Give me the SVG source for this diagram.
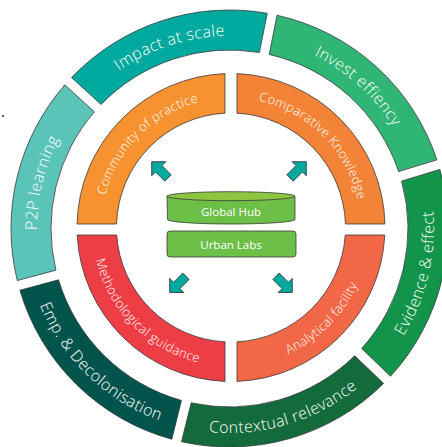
<svg xmlns="http://www.w3.org/2000/svg" width="442" height="447" viewBox="0 0 442 447">
<style>
.seg{stroke:#3a3a3a;stroke-width:0.8}
.lbl{fill:#ffffff;font-family:"Open Sans","Noto Sans","Liberation Sans",sans-serif;font-weight:300;letter-spacing:0.4px}
.out{font-size:16px}
.in{font-size:12.8px}
.ctr{fill:#ffffff;font-family:"Open Sans","Noto Sans","Liberation Sans",sans-serif;font-size:11.5px;text-anchor:middle}
.arr{fill:#00A99D;stroke:#333333;stroke-width:0.8;stroke-linejoin:miter}
</style>
<defs>
<path id="tpImpact" d="M 86.38 99.63 A 192.8 192.8 0 0 1 268.23 39.83"/>
<path id="tpInvest" d="M 269.87 40.18 A 192.8 192.8 0 0 1 412.78 169.29"/>
<path id="tpEvidence" d="M 378.02 368.94 A 204.2 204.2 0 0 0 425.38 170.10"/>
<path id="tpContext" d="M 181.79 427.26 A 204.2 204.2 0 0 0 377.77 369.21"/>
<path id="tpEmp" d="M 33.01 284.83 A 204.2 204.2 0 0 0 180.05 426.83"/>
<path id="tpP2P" d="M 44.68 282.72 A 192.8 192.8 0 0 1 90.13 95.57"/>
<path id="tpCommunity" d="M 101.4 227.5 A 129.6 129.6 0 0 1 231 97.9"/>
<path id="tpComparative" d="M 231 97.9 A 129.6 129.6 0 0 1 360.6 227.5"/>
<path id="tpMethod" d="M 92.1 227.5 A 138.9 138.9 0 0 0 231 366.4"/>
<path id="tpAnalytical" d="M 231 366.4 A 138.9 138.9 0 0 0 369.9 227.5"/>
<path id="arrowShape" d="M 0 0 L 10 10 L 4.5 10 L 4.5 23 L -4.5 23 L -4.5 10 L -10 10 Z"/>
</defs>
<circle cx="3" cy="116" r="1.1" fill="#333333"/>
<g id="impact-at-scale">
<path class="seg" fill="#00A99D" d="M 71.53 77.55 A 218.5 218.5 0 0 1 267.22 13.28 L 259.41 52.52 A 178.5 178.5 0 0 0 101.10 104.50 Z"/>
<text class="lbl out"><textPath href="#tpImpact" startOffset="50%" text-anchor="middle">Impact at scale</textPath></text>
</g>
<g id="invest-effiency">
<path class="seg" fill="#2FB574" d="M 277.01 15.23 A 218.5 218.5 0 0 1 436.94 159.86 L 398.67 171.55 A 178.5 178.5 0 0 0 269.21 54.47 Z"/>
<text class="lbl out"><textPath href="#tpInvest" startOffset="50%" text-anchor="middle">Invest effiency</textPath></text>
</g>
<g id="evidence-effect">
<path class="seg" fill="#12954A" d="M 439.86 169.42 A 218.5 218.5 0 0 1 390.51 376.23 L 361.64 348.50 A 178.5 178.5 0 0 0 401.60 181.12 Z"/>
<text class="lbl out"><textPath href="#tpEvidence" startOffset="50%" text-anchor="middle">Evidence &amp; effect</textPath></text>
</g>
<g id="contextual-relevance">
<path class="seg" fill="#136A3A" d="M 383.57 383.44 A 218.5 218.5 0 0 1 181.51 441.66 L 191.18 402.84 A 178.5 178.5 0 0 0 354.71 355.72 Z"/>
<text class="lbl out"><textPath href="#tpContext" startOffset="50%" text-anchor="middle">Contextual relevance</textPath></text>
</g>
<g id="emp-decolonisation">
<path class="seg" fill="#00544C" d="M 171.80 439.25 A 218.5 218.5 0 0 1 19.89 290.22 L 58.53 279.81 A 178.5 178.5 0 0 0 181.48 400.42 Z"/>
<text class="lbl out"><textPath href="#tpEmp" startOffset="50%" text-anchor="middle">Emp. &amp; Decolonisation</textPath></text>
</g>
<g id="p2p-learning">
<path class="seg" fill="#5BC4B9" d="M 17.30 280.58 A 218.5 218.5 0 0 1 64.84 84.87 L 94.39 111.85 A 178.5 178.5 0 0 0 55.93 270.15 Z"/>
<text class="lbl out"><textPath href="#tpP2P" startOffset="50%" text-anchor="middle">P2P learning</textPath></text>
</g>
<g id="community-of-practice">
<path class="seg" fill="#F6922F" d="M 77.04 224 A 154 154 0 0 1 225 73.62 L 225 113.16 A 114.5 114.5 0 0 0 116.55 224 Z"/>
<text class="lbl in"><textPath href="#tpCommunity" startOffset="50%" text-anchor="middle">Community of practice</textPath></text>
</g>
<g id="comparative-knowledge">
<path class="seg" fill="#F38336" d="M 237 73.62 A 154 154 0 0 1 384.96 224 L 345.45 224 A 114.5 114.5 0 0 0 237 113.16 Z"/>
<text class="lbl in"><textPath href="#tpComparative" startOffset="50%" text-anchor="middle">Comparative Knowledge</textPath></text>
</g>
<g id="methodological-guidance">
<path class="seg" fill="#EE3E45" d="M 77.18 235 L 116.75 235 A 114.5 114.5 0 0 0 225 341.84 L 225 381.38 A 154 154 0 0 1 77.18 235 Z"/>
<text class="lbl in"><textPath href="#tpMethod" startOffset="50%" text-anchor="middle">Methodological guidance</textPath></text>
</g>
<g id="analytical-facility">
<path class="seg" fill="#F26745" d="M 237 341.84 A 114.5 114.5 0 0 0 345.25 235 L 384.82 235 A 154 154 0 0 1 237 381.38 Z"/>
<text class="lbl in"><textPath href="#tpAnalytical" startOffset="50%" text-anchor="middle">Analytical facility</textPath></text>
</g>
<g id="global-hub">
<path class="seg" fill="#6CBF47" d="M 167 196.2 L 167.5 219.5 A 63.75 4.5 0 0 0 295 219.5 L 295 196.2 Z"/>
<ellipse class="seg" cx="231" cy="196.2" rx="64" ry="4.5" fill="#8DC540"/>
<text class="ctr" x="231" y="216">Global Hub</text>
</g>
<g id="urban-labs">
<rect class="seg" x="167" y="231" width="129" height="26" rx="3" fill="#6CBF47"/>
<text class="ctr" x="231" y="249">Urban Labs</text>
</g>
<g id="connectors">
<use href="#arrowShape" class="arr" transform="translate(151.7 161.7) rotate(-45)"/>
<use href="#arrowShape" class="arr" transform="translate(306.3 161.7) rotate(45)"/>
<use href="#arrowShape" class="arr" transform="translate(169.7 292.5) rotate(-135)"/>
<use href="#arrowShape" class="arr" transform="translate(292.3 292.5) rotate(135)"/>
</g>
</svg>
